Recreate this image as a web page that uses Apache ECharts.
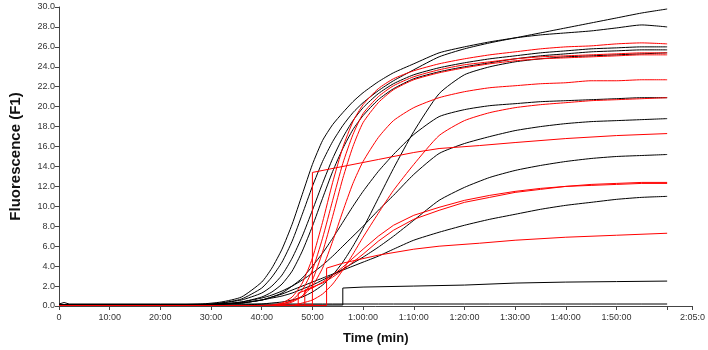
<!DOCTYPE html>
<html>
<head>
<meta charset="utf-8">
<script src="https://cdn.jsdelivr.net/npm/echarts@6/dist/echarts.min.js"></script>
<style>html,body{margin:0;padding:0;background:#fff;}#c{width:708px;height:350px;}</style>
</head>
<body>
<div id="c"></div>
<script>
// Shared time grid (minutes)
const T = [0,1,2,20,28,32,36,40,42,44,46,48,50,52,54,56,58,60,63,66,70,75,80,85,90,95,100,105,110,115,120];

// Black curves (values on T)
const blackA = [0.1,0.1,0.1,0.1,0.2,0.4,0.9,2.4,3.8,5.7,8.2,11.2,14.2,16.6,18.2,19.4,20.5,21.4,22.5,23.4,24.3,25.4,26.0,26.5,26.9,27.2,27.4,27.6,27.9,28.2,28.0];
const blackB = [0.1,0.1,0.1,0.1,0.1,0.3,0.7,1.8,2.9,4.4,6.5,9.2,12.0,14.5,16.5,18.1,19.4,20.4,21.6,22.6,23.7,25.0,25.8,26.4,26.9,27.4,27.9,28.4,28.9,29.4,29.8];
const blackC1 = [0.1,0.1,0.1,0.1,0.1,0.3,0.6,1.3,2.0,3.1,4.8,7.0,9.6,12.3,14.8,16.9,18.6,19.9,21.3,22.3,23.2,23.9,24.4,24.8,25.1,25.4,25.6,25.8,25.9,26.0,26.0];
const blackC2 = [0.1,0.1,0.1,0.1,0.1,0.2,0.4,0.9,1.4,2.2,3.5,5.5,8.0,10.8,13.5,15.8,17.7,19.1,20.7,21.8,22.8,23.5,24.0,24.4,24.8,25.1,25.3,25.5,25.6,25.7,25.7];
const blackE = [0.1,0.1,0.1,0.1,0.1,0.1,0.1,0.2,0.3,0.4,0.6,0.9,1.4,2.1,3.1,4.4,6.0,7.8,10.8,13.8,17.5,21.3,23.2,24.0,24.5,24.8,25.0,25.1,25.2,25.3,25.4];
const blackD = [0.1,0.1,0.1,0.1,0.1,0.2,0.3,0.6,0.9,1.3,2.0,2.8,4.0,5.3,6.8,8.4,10.0,11.5,13.5,15.2,17.2,19.0,19.7,20.1,20.3,20.5,20.6,20.7,20.8,20.9,20.9];
const blackI = [0.1,0.1,0.1,0.1,0.1,0.2,0.4,0.8,1.1,1.5,2.0,2.6,3.3,4.1,5.0,6.0,7.0,8.0,9.6,11.1,13.2,15.3,16.3,17.0,17.6,18.0,18.3,18.5,18.6,18.7,18.8];
const blackJ = [0.1,0.1,0.1,0.1,0.1,0.2,0.3,0.6,0.8,1.0,1.3,1.7,2.1,2.6,3.1,3.7,4.3,4.9,5.9,7.0,8.6,10.6,11.9,12.9,13.6,14.1,14.5,14.8,15.0,15.1,15.2];
const blackL = [0.1,0.1,0.1,0.1,0.1,0.2,0.3,0.6,0.9,1.2,1.6,2.0,2.4,2.8,3.2,3.6,4.0,4.4,5.0,5.7,6.6,7.4,8.1,8.7,9.2,9.7,10.1,10.4,10.7,10.9,11.0];
const blackFlat = [0.2,0.35,0.2,0.2,0.2,0.2,0.2,0.2,0.2,0.2,0.2,0.2,0.2,0.2,0.2,0.2,0.2,0.2,0.2,0.2,0.2,0.2,0.2,0.2,0.2,0.2,0.2,0.2,0.2,0.2,0.2];
// Black step curve
const tBlackStep = [0,20,40,56,56,60,70,80,90,100,110,120];
const vBlackStep = [0.1,0.1,0.1,0.1,1.8,1.9,2.0,2.1,2.3,2.4,2.45,2.5];

// Red curves (values on T)
const red1 = [0.05,0.05,0.05,0.05,0.05,0.05,0.05,0.05,0.1,0.3,0.9,2.3,4.8,8.4,12.4,15.9,18.5,20.2,21.8,22.8,23.6,24.3,24.8,25.2,25.5,25.8,26.0,26.1,26.3,26.4,26.3];
const red2 = [0.05,0.05,0.05,0.05,0.05,0.05,0.05,0.05,0.05,0.2,0.6,1.6,3.6,6.8,10.6,14.3,17.2,19.3,21.0,22.1,23.0,23.7,24.2,24.5,24.8,25.0,25.1,25.2,25.3,25.4,25.4];
const red3 = [0.05,0.05,0.05,0.05,0.05,0.05,0.05,0.05,0.05,0.1,0.4,1.0,2.6,5.4,9.0,12.8,16.0,18.4,20.4,21.7,22.7,23.4,23.9,24.3,24.6,24.8,24.9,25.0,25.1,25.2,25.2];
const redF = [0.05,0.05,0.05,0.05,0.05,0.05,0.05,0.05,0.05,0.2,0.5,1.0,2.0,3.8,6.5,9.5,12.3,14.5,16.9,18.6,19.9,20.9,21.5,21.9,22.1,22.3,22.4,22.6,22.6,22.7,22.7];
const redG = [0.05,0.05,0.05,0.05,0.05,0.05,0.05,0.05,0.05,0.05,0.05,0.3,0.6,1.2,2.2,3.6,5.2,6.9,9.3,11.6,14.2,17.1,18.6,19.4,19.9,20.2,20.4,20.6,20.7,20.8,20.9];
// Red step curves
const tRedH = [0,20,40,50,50,57,63,70,75,83,90,100,110,120];
const vRedH = [0.05,0.05,0.05,0.1,13.4,14.1,14.7,15.4,15.8,16.1,16.4,16.8,17.1,17.3];
const tRedK1 = [0,20,40,47.2,47.2,50,52,54,56,58,60,63,66,70,75,80,85,90,95,100,105,110,115,120];
const vRedK1 = [0.05,0.05,0.05,0.05,1.3,1.8,2.4,3.1,3.9,4.8,5.7,7.0,8.1,9.1,9.9,10.6,11.1,11.5,11.8,12.0,12.2,12.3,12.4,12.4];
const tRedK2 = [0,20,40,48.5,48.5,50,52,54,56,58,60,63,66,70,75,80,85,90,95,100,105,110,115,120];
const vRedK2 = [0.05,0.05,0.05,0.05,1.6,1.9,2.3,2.9,3.6,4.4,5.2,6.5,7.6,8.7,9.6,10.4,10.9,11.4,11.7,12.0,12.1,12.2,12.3,12.3];
const tRedM = [0,20,40,52.8,52.8,56,63,70,75,83,90,100,110,120];
const vRedM = [0.05,0.05,0.05,0.05,3.8,4.3,5.1,5.7,6.0,6.3,6.6,6.9,7.1,7.3];

// Axis tick labels
const yTicks = [0,2,4,6,8,10,12,14,16,18,20,22,24,26,28,30];
const xLabels = {0:'0',10:'10:00',20:'20:00',30:'30:00',40:'40:00',50:'50:00',60:'1:00:00',70:'1:10:00',80:'1:20:00',90:'1:30:00',100:'1:40:00',110:'1:50:00',120:'',125:'2:05:0'};

const BLACK = '#000000', RED = '#ff0000';
function zipT(ts, vs){ return ts.map((t,i)=>[t, vs[i]]); }
function mk(ts, vs, color, smooth){
  return {type:'line', data: zipT(ts, vs), showSymbol:false, symbol:'none',
    smooth: smooth ? 0.2 : false,
    lineStyle:{color:color, width:1}, itemStyle:{color:color}, animation:false, silent:true, z: color===RED?3:2};
}
const series = [
  mk(T, blackFlat, BLACK, false),
  mk(tBlackStep, vBlackStep, BLACK, false),
  mk(T, blackL, BLACK, true),
  mk(T, blackJ, BLACK, true),
  mk(T, blackI, BLACK, true),
  mk(T, blackD, BLACK, true),
  mk(T, blackE, BLACK, true),
  mk(T, blackC2, BLACK, true),
  mk(T, blackC1, BLACK, true),
  mk(T, blackB, BLACK, true),
  mk(T, blackA, BLACK, true),
  mk(tRedM, vRedM, RED, false),
  mk(tRedK1, vRedK1, RED, false),
  mk(tRedK2, vRedK2, RED, false),
  mk(tRedH, vRedH, RED, false),
  mk(T, redG, RED, true),
  mk(T, redF, RED, true),
  mk(T, red3, RED, true),
  mk(T, red2, RED, true),
  mk(T, red1, RED, true)
];

const chart = echarts.init(document.getElementById('c'), null, {renderer:'canvas'});
chart.setOption({
  animation:false,
  backgroundColor:'#ffffff',
  grid:{left:56, right:11, top:7, bottom:44, containLabel:false},
  xAxis:{
    type:'value', min:0, max:125, interval:10,
    name:'Time (min)', nameLocation:'middle', nameGap:26,
    nameTextStyle:{fontFamily:'Arial, Liberation Sans', fontWeight:'bold', fontSize:13, color:'#111'},
    axisLine:{show:true, lineStyle:{color:'#444', width:1}},
    axisTick:{show:true, length:4, lineStyle:{color:'#444'}},
    splitLine:{show:false},
    axisLabel:{fontFamily:'Arial, Liberation Sans', fontSize:9, color:'#333', margin:7,
      formatter:(v)=> (xLabels[v] !== undefined ? xLabels[v] : '')}
  },
  yAxis:{
    type:'value', min:0, max:30, interval:2,
    name:'Fluorescence (F1)', nameLocation:'middle', nameGap:36,
    nameTextStyle:{fontFamily:'Arial, Liberation Sans', fontWeight:'bold', fontSize:15, color:'#111'},
    axisLine:{show:true, lineStyle:{color:'#444', width:1}},
    axisTick:{show:true, length:4, lineStyle:{color:'#444'}},
    splitLine:{show:false},
    axisLabel:{fontFamily:'Arial, Liberation Sans', fontSize:9, color:'#333', margin:4,
      formatter:(v)=> (yTicks.indexOf(v) >= 0 ? v.toFixed(1) : '')}
  },
  series: series
});
</script>
</body>
</html>
